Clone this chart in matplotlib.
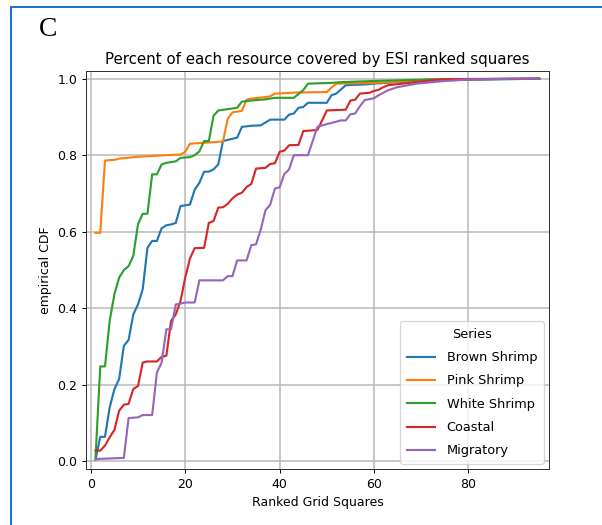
import matplotlib
matplotlib.use("Agg")
import matplotlib.pyplot as plt
from matplotlib.lines import Line2D

# Vertices
brown_x = [1, 2, 3, 4, 5, 6, 7, 8, 9, 10, 11, 12, 13, 14, 15, 16, 17, 18, 19, 20,
           21, 22, 23, 24, 25, 26, 27, 28, 29, 30, 31, 32, 34, 36, 38, 41, 42, 43,
           44, 45, 46, 50, 51, 52, 54, 58, 60, 70, 95]
brown_y = [0.005, 0.064, 0.064, 0.141, 0.189, 0.215, 0.302, 0.317, 0.384, 0.41,
           0.45, 0.558, 0.576, 0.576, 0.609, 0.617, 0.619, 0.623, 0.667, 0.669,
           0.671, 0.71, 0.728, 0.757, 0.757, 0.763, 0.776, 0.837, 0.84, 0.843,
           0.846, 0.874, 0.877, 0.878, 0.893, 0.893, 0.906, 0.909, 0.924, 0.926,
           0.937, 0.937, 0.957, 0.961, 0.983, 0.985, 0.987, 0.995, 1.0]

pink_x = [1, 2, 3, 5, 6, 10, 16, 19, 20, 21, 27, 28, 29, 30, 32, 33, 34, 37, 38,
          39, 44, 50, 51, 52, 60, 65, 72, 95]
pink_y = [0.597, 0.597, 0.786, 0.788, 0.791, 0.796, 0.80, 0.802, 0.809, 0.83,
          0.835, 0.836, 0.895, 0.912, 0.916, 0.945, 0.948, 0.952, 0.954, 0.961,
          0.964, 0.965, 0.977, 0.987, 0.989, 0.992, 0.998, 1.0]

white_x = [1, 2, 3, 4, 5, 6, 7, 8, 9, 10, 11, 12, 13, 14, 15, 16, 18, 19, 21, 22,
           23, 24, 25, 26, 27, 30, 31, 32, 34, 37, 39, 43, 44, 45, 46, 51, 53, 60,
           72, 95]
white_y = [0.01, 0.248, 0.248, 0.367, 0.437, 0.48, 0.50, 0.51, 0.537, 0.62, 0.647,
           0.647, 0.75, 0.75, 0.776, 0.78, 0.784, 0.793, 0.795, 0.80, 0.81, 0.837,
           0.837, 0.903, 0.917, 0.922, 0.924, 0.94, 0.943, 0.946, 0.95, 0.95,
           0.96, 0.97, 0.987, 0.989, 0.991, 0.994, 0.998, 1.0]

coastal_x = [1, 2, 3, 4, 5, 6, 7, 8, 9, 10, 11, 12, 14, 15, 16, 17, 18, 19, 20, 21,
             22, 24, 25, 26, 27, 28, 29, 30, 31, 32, 33, 34, 35, 37, 38, 39, 40,
             41, 42, 44, 45, 48, 49, 50, 54, 55, 56, 57, 59, 60, 61, 62, 63, 66,
             69, 73, 76, 95]
coastal_y = [0.028, 0.028, 0.041, 0.063, 0.082, 0.132, 0.148, 0.15, 0.189, 0.197,
             0.258, 0.261, 0.261, 0.273, 0.276, 0.367, 0.384, 0.419, 0.48, 0.53,
             0.557, 0.558, 0.623, 0.628, 0.663, 0.664, 0.673, 0.687, 0.697, 0.702,
             0.717, 0.725, 0.765, 0.767, 0.777, 0.779, 0.809, 0.812, 0.826, 0.827,
             0.863, 0.866, 0.891, 0.917, 0.919, 0.943, 0.945, 0.961, 0.963, 0.968,
             0.971, 0.978, 0.983, 0.987, 0.991, 0.997, 0.999, 1.0]

migratory_x = [1, 7, 8, 10, 11, 13, 14, 15, 16, 17, 18, 19, 20, 22, 23, 28, 29, 30,
               31, 33, 34, 35, 36, 37, 38, 39, 40, 41, 42, 43, 46, 47, 48, 49, 53,
               54, 55, 56, 57, 58, 60, 61, 63, 65, 69, 75, 80, 90, 95]
migratory_y = [0.006, 0.009, 0.113, 0.115, 0.121, 0.121, 0.232, 0.258, 0.345,
               0.345, 0.41, 0.412, 0.415, 0.415, 0.473, 0.473, 0.484, 0.484, 0.525,
               0.525, 0.565, 0.567, 0.606, 0.656, 0.671, 0.713, 0.716, 0.751, 0.763,
               0.80, 0.80, 0.837, 0.874, 0.878, 0.891, 0.891, 0.907, 0.909, 0.928,
               0.944, 0.949, 0.957, 0.970, 0.978, 0.987, 0.994, 0.998, 1.0, 1.0]

series_names = ['Brown Shrimp', 'Pink Shrimp', 'White Shrimp', 'Coastal', 'Migratory']
series_x = [brown_x, pink_x, white_x, coastal_x, migratory_x]
series_y = [brown_y, pink_y, white_y, coastal_y, migratory_y]
colors = ['#1f77b4', '#ff7f0e', '#2ca02c', '#d62728', '#9467bd']

fig = plt.figure(figsize=(602 / 90, 525 / 90), dpi=90)
ax = fig.add_axes([0.143, 0.1067, 0.7685, 0.758])

for name, xs, ys, c in zip(series_names, series_x, series_y, colors):
    ax.plot(xs, ys, color=c, lw=1.7, label=name)

ax.set_xlim(-1, 97)
ax.set_ylim(-0.02, 1.02)
ax.set_xticks([0, 20, 40, 60, 80])
ax.set_yticks([0.0, 0.2, 0.4, 0.6, 0.8, 1.0])
ax.grid(True, color='#b8b8b8', lw=1.2)
ax.set_axisbelow(True)
for sp in ax.spines.values():
    sp.set_color('#333333')
ax.set_title('Percent of each resource covered by ESI ranked squares', fontsize=12)
ax.set_xlabel('Ranked Grid Squares', fontsize=10)
ax.set_ylabel('empirical CDF', fontsize=10)
ax.legend(title='Series', loc='lower right', fontsize=10.3, title_fontsize=10.3,
          labelspacing=0.8, handlelength=2.2, handletextpad=0.9, borderpad=0.5,
          borderaxespad=0.4)

# panel letter and the blue frame of the screenshot
fig.text(0.08, 0.943, 'C', family='Liberation Serif', fontsize=22, ha='center', va='center')
fig.add_artist(Line2D([11 / 602, 11 / 602], [0, 1 - 7 / 525], color='#1a73d9', lw=1.6,
                      transform=fig.transFigure))
fig.add_artist(Line2D([11 / 602, 1], [1 - 7 / 525, 1 - 7 / 525], color='#1a73d9', lw=1.6,
                      transform=fig.transFigure))

fig.savefig('out.png', dpi=90)
